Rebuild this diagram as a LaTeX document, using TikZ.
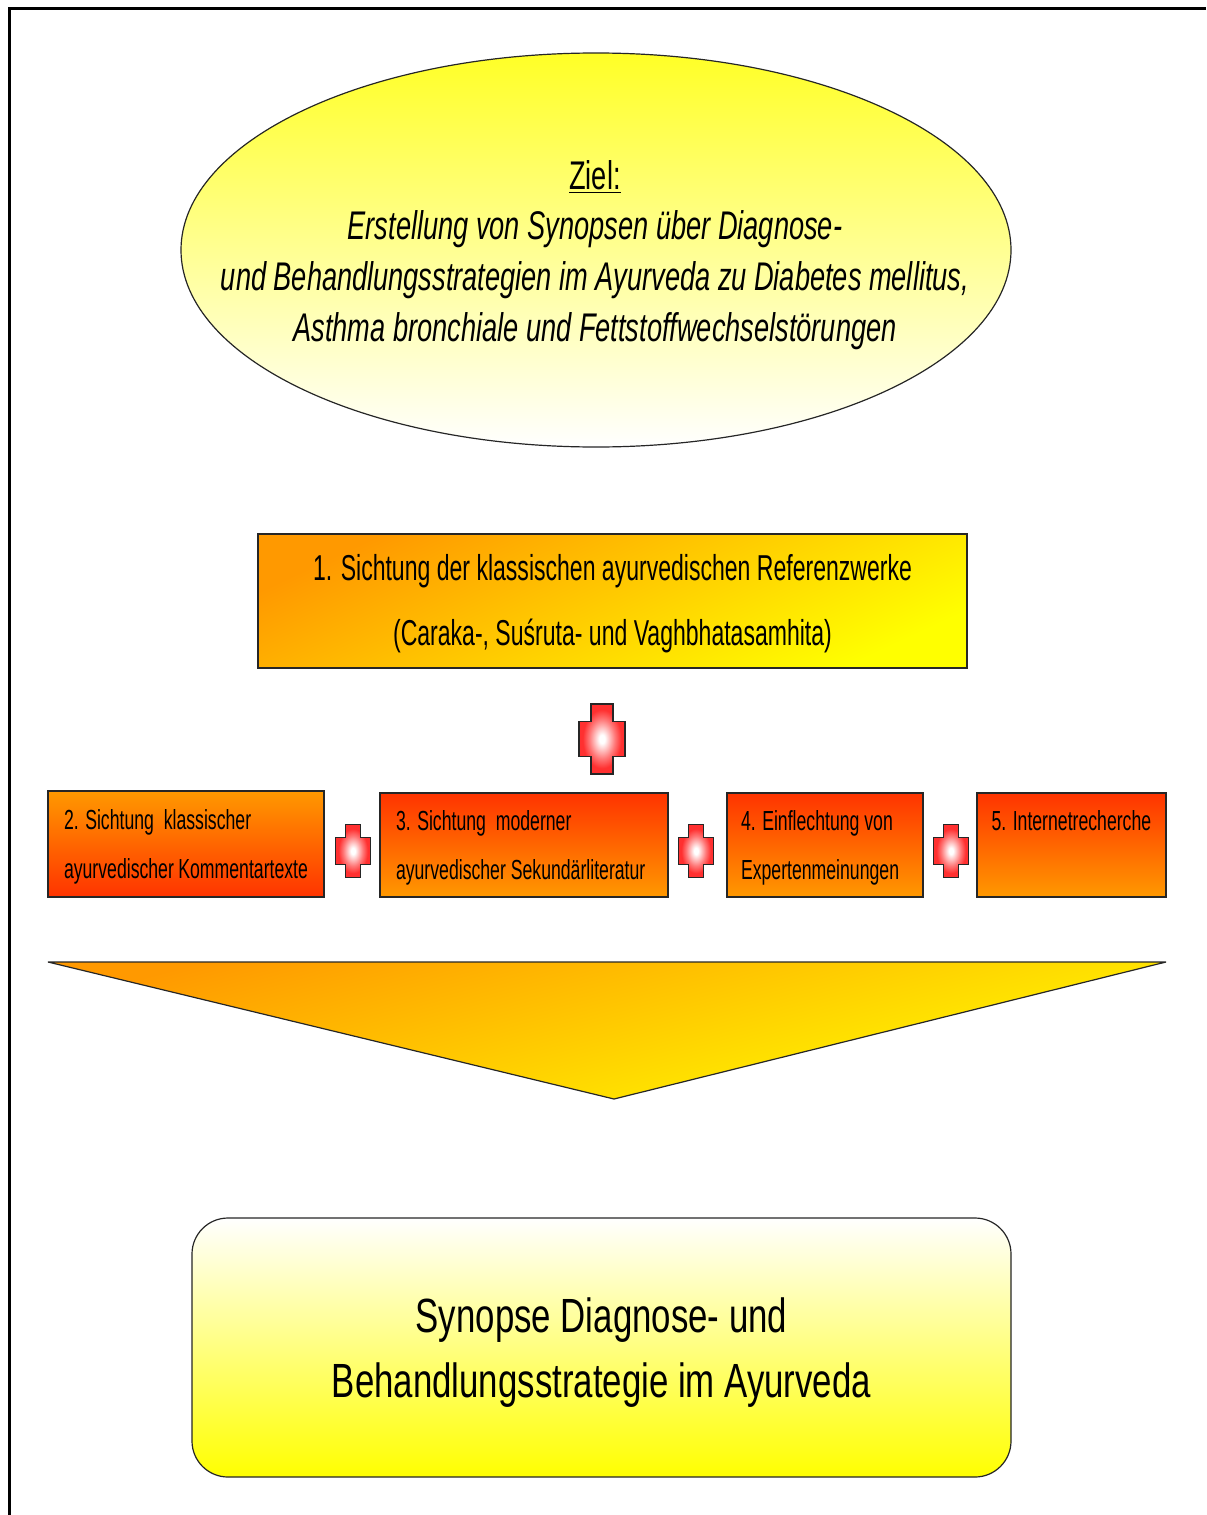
\documentclass[tikz,border=0pt]{standalone}
\usepackage{fontspec}
\setmainfont[FakeStretch=0.725]{Liberation Sans}
\newfontfamily\ellipsefont[FakeStretch=0.68]{Liberation Sans}
\newfontfamily\narrowfont[FakeStretch=0.64]{Liberation Sans}
\usetikzlibrary{shapes.geometric}
\definecolor{boxorange}{HTML}{FF9900}
\definecolor{boxred}{HTML}{FF3300}
\definecolor{boxyellow}{HTML}{FFFF00}
\definecolor{plusred}{HTML}{FF3030}
\pgfdeclareradialshading{plusglow}{\pgfpoint{0bp}{0bp}}{color(0bp)=(white); color(3bp)=(white); color(14bp)=(plusred!65!white); color(21bp)=(plusred); color(50bp)=(plusred)}
\tikzset{
    boxline/.style={draw=black!85, line width=.6pt},
    redtop/.style={boxline, rectangle, inner sep=0pt, top color=boxred, bottom color=boxorange},
    orangetop/.style={boxline, rectangle, inner sep=0pt, top color=boxorange, bottom color=boxred},
    smalltext/.style={align=flush left, font=\narrowfont\fontsize{13.8}{24.5}\selectfont},
    plussmall/.pic={
        \draw[line width=.8pt, shading=plusglow, draw=black!85]
            (-7.5,-26.5) -- (7.5,-26.5) -- (7.5,-13.5) -- (17.5,-13.5) -- (17.5,13.5) -- (7.5,13.5)
            -- (7.5,26.5) -- (-7.5,26.5) -- (-7.5,13.5) -- (-17.5,13.5) -- (-17.5,-13.5) -- (-7.5,-13.5) -- cycle;
    },
    plusbig/.pic={
        \draw[line width=.8pt, shading=plusglow, draw=black!85]
            (-11,-35) -- (11,-35) -- (11,-17.5) -- (23,-17.5) -- (23,17.5) -- (11,17.5)
            -- (11,35) -- (-11,35) -- (-11,17.5) -- (-23,17.5) -- (-23,-17.5) -- (-11,-17.5) -- cycle;
    },
}
\begin{document}
\begin{tikzpicture}[
            x=.5pt, y=-.5pt,
        ]
            \useasboundingbox (0, 0) rectangle (1206, 1515);
            \coordinate (framebl) at (9, 1515);
            \coordinate (frametl) at (9, 8);
            \coordinate (frametr) at (1206, 8);
            \draw[line width=1.5pt] (framebl) -- (frametl) -- (frametr);
            \node[ellipse, boxline, inner sep=0pt, minimum width=415pt, minimum height=197pt, top color=boxyellow!85!white, bottom color=white] (zielform) at (596, 250) {};
            \node[align=center, font=\ellipsefont\fontsize{20}{25.4}\selectfont] (ziel) at (595, 255) {\underline{Ziel:}\\\itshape Erstellung von Synopsen über Diagnose-\\\itshape und Behandlungsstrategien im Ayurveda zu Diabetes mellitus,\\\itshape Asthma bronchiale und Fettstoffwechselstörungen};
            \node[boxline, rectangle, inner sep=0pt, minimum width=354.5pt, minimum height=67pt, top color=boxorange, bottom color=boxyellow, shading angle=25, align=center, font=\narrowfont\fontsize{18}{32.5}\selectfont] (werke) at (612.5, 601) {\rule{0pt}{15.5pt}1. Sichtung der klassischen ayurvedischen Referenzwerke\\(Caraka-, Suśruta- und Vaghbhatasamhita)};
            \pic (plustop) at (602, 739) {plusbig};
            \node[orangetop, minimum width=138pt, minimum height=53pt, text width=122pt, smalltext] (kommentar) at (186, 844) {\rule{0pt}{12.5pt}2. Sichtung\ \ klassischer\\ayurvedischer Kommentartexte};
            \pic (plusa) at (353, 851) {plussmall};
            \node[redtop, minimum width=144pt, minimum height=52pt, text width=128pt, smalltext] (sekundaer) at (524, 845) {\rule{0pt}{12.5pt}3. Sichtung\ \ moderner\\ayurvedischer Sekundärliteratur};
            \pic (plusb) at (696, 851) {plussmall};
            \node[redtop, minimum width=98pt, minimum height=52pt, text width=84pt, smalltext] (experten) at (825, 845) {\rule{0pt}{12.5pt}4. Einflechtung von\\Expertenmeinungen};
            \pic (plusc) at (951, 851) {plussmall};
            \node[redtop, minimum width=94.5pt, minimum height=52pt, text width=80pt, smalltext] (internet) at (1071.5, 845) {5. Internetrecherche\\~};
            \coordinate (tril) at (48, 962);
            \coordinate (trir) at (1166, 962);
            \coordinate (trib) at (614, 1099);
            \draw[boxline, line join=bevel, top color=boxorange, bottom color=boxyellow, shading angle=15] (tril) -- (trir) -- (trib) -- cycle;
            \node[boxline, rectangle, rounded corners=18pt, inner sep=0pt, minimum width=409.5pt, minimum height=129.5pt, top color=white, bottom color=boxyellow, align=center, font=\fontsize{24}{32.5}\selectfont] (synopse) at (601.5, 1347.5) {\rule{0pt}{22.5pt}Synopse Diagnose- und\\Behandlungsstrategie im Ayurveda};
        \end{tikzpicture}
\end{document}
